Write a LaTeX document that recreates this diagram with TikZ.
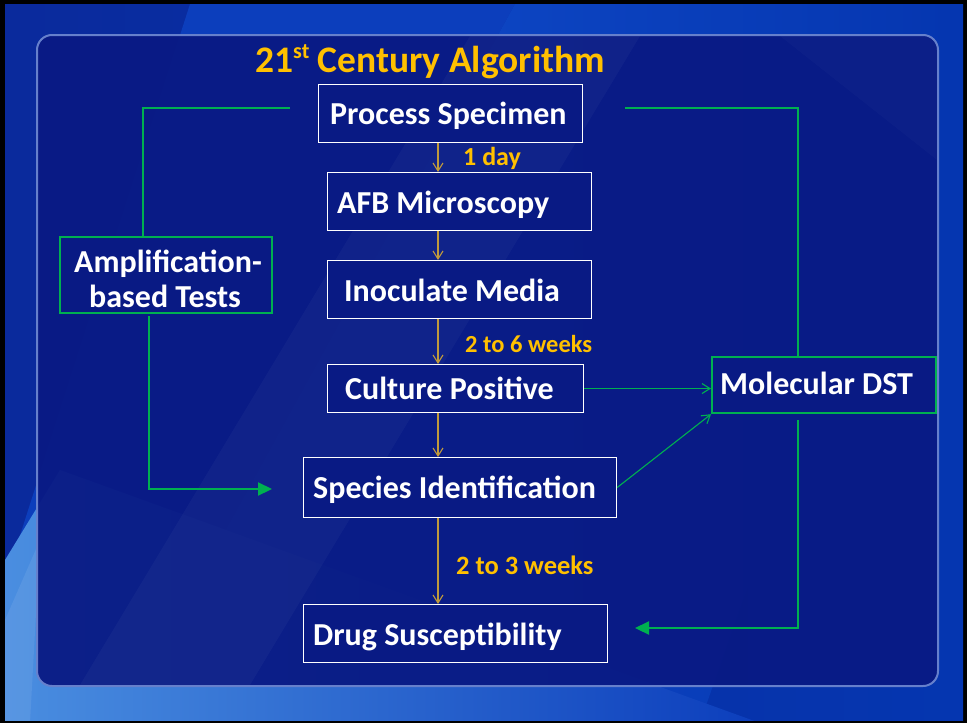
\documentclass[tikz,border=0pt]{standalone}
\usepackage{fontspec}
\setmainfont{Carlito}
\usetikzlibrary{arrows.meta,calc}

\definecolor{frameblack}{HTML}{000000}
\definecolor{slidedark}{HTML}{0A2A9C}
\definecolor{slidemid}{HTML}{0C3EBC}
\definecolor{slidelight}{HTML}{1350D0}
\definecolor{slideright}{HTML}{0536B0}
\definecolor{skyblue}{HTML}{4A8EE0}
\definecolor{panelfill}{HTML}{091A84}
\definecolor{panelline}{HTML}{6680CC}
\definecolor{titlegold}{HTML}{FFC000}
\definecolor{arrowgold}{HTML}{C09A3C}
\definecolor{pptgreen}{HTML}{00B050}

\tikzset{
  wbox/.style={draw=white, line width=1.1pt, fill=panelfill, inner sep=0pt, anchor=north west},
  gbox/.style={draw=pptgreen, line width=2.2pt, fill=panelfill, inner sep=0pt, anchor=north west},
  boxtext/.style={text=white, font=\bfseries\fontsize{32}{37}\selectfont, inner sep=0pt, anchor=base west},
  timetext/.style={text=titlegold, font=\bfseries\fontsize{24.5}{29}\selectfont, inner sep=0pt, anchor=base west},
  goldflow/.style={draw=arrowgold, line width=1.1pt, -{Straight Barb[length=8pt,width=10pt]}},
  thinlink/.style={draw=pptgreen, line width=1.1pt, -{Straight Barb[length=8pt,width=10pt]}},
  thicklink/.style={draw=pptgreen, line width=2.2pt},
  thickarrow/.style={thicklink, -{Triangle[length=14pt,width=13pt]}}
}

\begin{document}
\begin{tikzpicture}[x=1pt,y=-1pt]
\useasboundingbox (0,0) rectangle (967,723);

% slide background
\fill[frameblack] (0,0) rectangle (967,723);
\begin{scope}
  \clip (5,4) rectangle (963,720);
  \shade[left color=slidedark, right color=slideright] (5,4) rectangle (963,720);
  \fill[slidemid] (190,4) -- (515,4) -- (120,723) -- (-40,723) -- cycle;
  \shade[left color=slidelight, right color=slideright]
    (515,4) -- (950,4) -- (700,723) -- (120,723) -- cycle;
  \shade[left color=skyblue, right color=slidemid]
    (5,723) -- (5,560) -- (60,470) -- (760,723) -- cycle;
  \fill[white, opacity=.08] (5,620) -- (40,540) -- (30,723) -- (5,723) -- cycle;
\end{scope}

% content panel
\draw[rounded corners=15pt, line width=2pt, draw=panelline, fill=panelfill, fill opacity=.95]
  (37,35) rectangle (938,686);
\begin{scope}
  \clip[rounded corners=15pt] (38,36) rectangle (937,685);
  \fill[white, opacity=.03] (470,36) -- (640,36) -- (250,685) -- (80,685) -- cycle;
  \fill[white, opacity=.02] (780,36) -- (937,36) -- (937,160) -- cycle;
\end{scope}

% title
\node[text=titlegold, font=\bfseries\fontsize{37.5}{42}\selectfont, inner sep=0pt, anchor=base west]
  (title) at (255,72) {21\raisebox{14pt}{\fontsize{22}{22}\selectfont st} Century Algorithm};

% process boxes
\node[wbox, minimum width=264pt, minimum height=58pt] (ps)  at (318,84)  {};
\node[wbox, minimum width=264pt, minimum height=58pt] (afb) at (327,172) {};
\node[wbox, minimum width=264pt, minimum height=58pt] (im)  at (327,260) {};
\node[wbox, minimum width=256pt, minimum height=48pt] (cp)  at (327,364) {};
\node[wbox, minimum width=313pt, minimum height=60pt] (si)  at (303,457) {};
\node[wbox, minimum width=304pt, minimum height=58pt] (ds)  at (303,604) {};
\node[gbox, minimum width=212pt, minimum height=76pt] (amp) at (59,236)  {};
\node[gbox, minimum width=224pt, minimum height=56pt] (mol) at (711,356) {};

% box captions
\node[boxtext] (tps)  at (330,124) {Process Specimen};
\node[boxtext] (tafb) at (337,213) {AFB Microscopy};
\node[boxtext] (tim)  at (344,301) {Inoculate Media};
\node[boxtext] (tcp)  at (345,399) {Culture Positive};
\node[boxtext] (tsi)  at (313,498) {Species Identification};
\node[boxtext] (tds)  at (313,645) {Drug Susceptibility};
\node[boxtext] (tmol) at (720,394) {Molecular DST};
\node[boxtext, anchor=base] (tamp1) at (168,272) {Amplification-};
\node[boxtext, anchor=base] (tamp2) at (165,307) {based Tests};

% elapsed-time labels
\node[timetext, font=\bfseries\fontsize{26}{30}\selectfont] (d1) at (463,165) {1 day};
\node[timetext] (d2) at (465,352) {2 to 6 weeks};
\node[timetext, font=\bfseries\fontsize{26.5}{31}\selectfont] (d3) at (456,574) {2 to 3 weeks};

% main workflow
\coordinate (gx) at (438,0);
\draw[goldflow] (ps.south -| gx)  -- (afb.north -| gx);
\draw[goldflow] (afb.south -| gx) -- (im.north -| gx);
\draw[goldflow] (im.south -| gx)  -- (cp.north -| gx);
\draw[goldflow] (cp.south -| gx)  -- (si.north -| gx);
\draw[goldflow] (si.south -| gx)  -- (ds.north -| gx);

% amplification-based branch
\coordinate (psL) at (290,108);
\coordinate (ampTop) at (143,0);
\draw[thicklink] (psL) -| (amp.north -| ampTop);
\coordinate (ampB) at (149,316);
\coordinate (siL) at (272,489);
\draw[thickarrow] (ampB) |- (siL);

% molecular DST branch
\coordinate (psR) at (625,108);
\coordinate (molx) at (798,0);
\draw[thicklink] (psR) -| (mol.north -| molx);
\coordinate (molB) at (798,420);
\coordinate (dsR) at (635,628);
\draw[thickarrow] (molB) |- (dsR);

\draw[thinlink] (cp.east) -- (cp.east -| mol.west);
\draw[thinlink] (si.east) -- (mol.south west);
\end{tikzpicture}
\end{document}
